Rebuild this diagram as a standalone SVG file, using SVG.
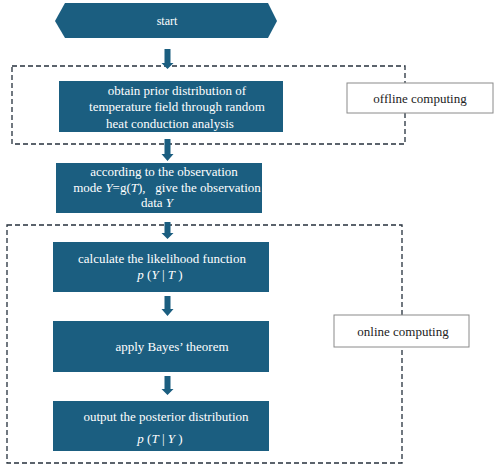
<svg xmlns="http://www.w3.org/2000/svg" width="498" height="472" viewBox="0 0 498 472">
<style>
.node{fill:#1b5e80;}
.t{font-family:"Liberation Serif","Times New Roman",serif;font-size:13px;fill:#ffffff;text-anchor:middle;}
.lt{font-family:"Liberation Serif","Times New Roman",serif;font-size:13px;fill:#222222;text-anchor:middle;}
.lab{fill:#ffffff;stroke:#8a8a8a;stroke-width:1;}
.dash{fill:none;stroke:#26313c;stroke-width:1.3;stroke-dasharray:5,3;}
.arr{fill:#1b5e80;}
.i{font-style:italic;}
</style>
<rect width="498" height="472" fill="#ffffff"/>
<g id="regions">
<path class="dash" d="M12,66 H405 V144 H12 Z"/>
<path class="dash" d="M7,225 H402 V463 H7 Z"/>
</g>
<g id="label-offline">
<rect class="lab" x="347" y="83" width="146" height="30"/>
<text class="lt" x="420" y="103">offline computing</text>
</g>
<g id="label-online">
<rect class="lab" x="334" y="315" width="135" height="32"/>
<text class="lt" x="403" y="336">online computing</text>
</g>
<g id="start">
<polygon class="node" points="55,21 65,3 268,3 277,21 268,38 65,38"/>
<text class="t" x="167" y="25" style="font-size:12px">start</text>
</g>
<g id="prior">
<rect class="node" x="59" y="81" width="224" height="51"/>
<text class="t" x="177" y="95">obtain prior distribution of</text>
<text class="t" x="177" y="111">temperature field through random</text>
<text class="t" x="170" y="128">heat conduction analysis</text>
</g>
<g id="observe">
<rect class="node" x="56" y="163" width="206" height="50"/>
<text class="t" x="164" y="176">according to the observation</text>
<text class="t" x="167" y="192" xml:space="preserve">mode <tspan class="i">Y</tspan>=g(<tspan class="i">T</tspan>),   give the observation</text>
<text class="t" x="157" y="207">data <tspan class="i">Y</tspan></text>
</g>
<g id="likelihood">
<rect class="node" x="53" y="242" width="216" height="50"/>
<text class="t" x="162" y="263">calculate the likelihood function</text>
<text class="t" x="160" y="279" xml:space="preserve"><tspan class="i">p</tspan> (<tspan class="i">Y</tspan> | <tspan class="i">T</tspan> )</text>
</g>
<g id="bayes">
<rect class="node" x="53" y="321" width="216" height="51"/>
<text class="t" x="172" y="351">apply Bayes’ theorem</text>
</g>
<g id="posterior">
<rect class="node" x="53" y="401" width="216" height="50"/>
<text class="t" x="166" y="421">output the posterior distribution</text>
<text class="t" x="160" y="443" xml:space="preserve"><tspan class="i">p</tspan> (<tspan class="i">T</tspan> | <tspan class="i">Y</tspan> )</text>
</g>
<g id="connectors">
<polygon class="arr" points="164.5,49 170.5,49 170.5,63 173.5,63 167.5,69 161.5,63 164.5,63"/>
<polygon class="arr" points="164.5,139 170.5,139 170.5,154 173.5,154 167.5,161 161.5,154 164.5,154"/>
<polygon class="arr" points="164.5,222 170.5,222 170.5,233 173.5,233 167.5,239 161.5,233 164.5,233"/>
<polygon class="arr" points="164.5,296 170.5,296 170.5,309 173.5,309 167.5,316 161.5,309 164.5,309"/>
<polygon class="arr" points="164.5,376 170.5,376 170.5,389 173.5,389 167.5,395 161.5,389 164.5,389"/>
</g>
</svg>
